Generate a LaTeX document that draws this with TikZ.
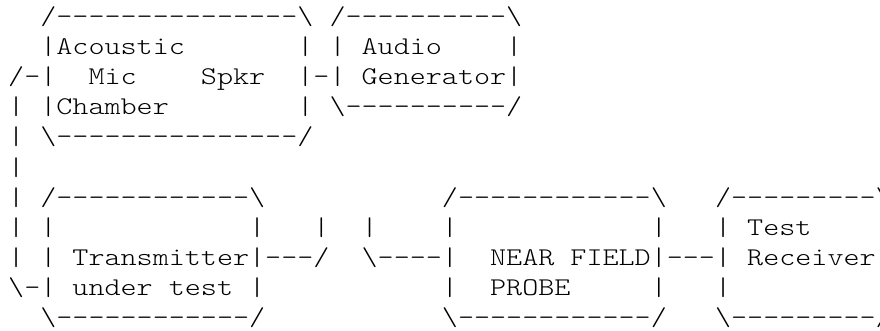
\documentclass[tikz,border=0pt]{standalone}
\usepackage{fontspec}
\setmonofont{lmmonolt10-regular.otf}[FakeStretch=1.2]
\newcommand\bs{\textbackslash}

\begin{document}
\begin{tikzpicture}[x=1pt,y=-1pt,
  asciirow/.style={anchor=base west,inner sep=0pt,text height=18pt,text depth=5pt,
    font=\ttfamily\fontsize{25.5}{30}\selectfont}]
\useasboundingbox (0,0) rectangle (880,330);
\clip (0,0) rectangle (880,330);
\node[asciirow] (r1) at (8,24.5) {~~/---------------\bs{}~/----------\bs};
\node[asciirow] (r2) at (8,54.6) {~~|Acoustic~~~~~~~|~|~Audio~~~~|};
\node[asciirow] (r3) at (8,84.7) {/-|~~Mic~~~~Spkr~~|-|~Generator|};
\node[asciirow] (r4) at (8,114.8) {|~|Chamber~~~~~~~~|~\bs----------/};
\node[asciirow] (r5) at (8,144.9) {|~\bs---------------/};
\node[asciirow] (r6) at (8,175.0) {|};
\node[asciirow] (r7) at (8,205.1) {|~/------------\bs{}~~~~~~~~~~~/------------\bs{}~~~/---------\bs};
\node[asciirow] (r8) at (8,235.2) {|~|~~~~~~~~~~~~|~~~|~~|~~~~|~~~~~~~~~~~~|~~~|~Test~~~~|};
\node[asciirow] (r9) at (8,265.3) {|~|~Transmitter|---/~~\bs----|~~NEAR~FIELD|---|~Receiver|};
\node[asciirow] (r10) at (8,295.4) {\bs-|~under~test~|~~~~~~~~~~~|~~PROBE~~~~~|~~~|~~~~~~~~~|};
\node[asciirow] (r11) at (8,325.5) {~~\bs------------/~~~~~~~~~~~\bs------------/~~~\bs---------/};
\end{tikzpicture}
\end{document}
